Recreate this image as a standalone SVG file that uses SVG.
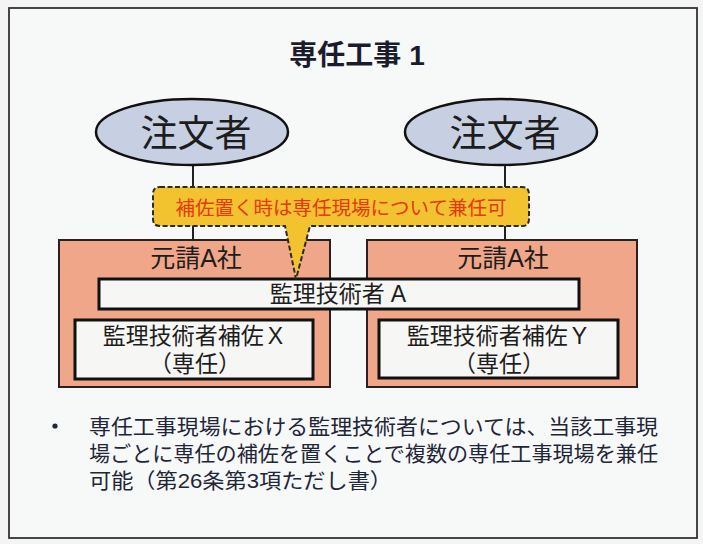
<svg xmlns="http://www.w3.org/2000/svg" width="703" height="544" viewBox="0 0 703 544">
<style>
text{font-family:"Liberation Sans","Noto Sans CJK JP",sans-serif;fill:#1d1d1d;dominant-baseline:central;text-anchor:middle}
.title{font-size:28px;font-weight:bold;fill:#1a1c2c}
.client{font-size:37px}
.corp{font-size:25px}
.lbl{font-size:23px}
.call{font-size:19.5px;fill:#e4380f}
.body{font-size:21px;text-anchor:start;fill:#1e2638}
.co{fill:#f0a689;stroke:#2a2020;stroke-width:2}
.wb{fill:#f6f6f4;stroke:#111;stroke-width:3}
.ell{fill:#c7d0e2;stroke:#111;stroke-width:2.5}
.conn{stroke:#222;stroke-width:2;fill:none}
</style>
<rect x="0" y="0" width="703" height="544" fill="#f3f4f3"/>
<rect x="9" y="8" width="688" height="530" fill="#f7f8f8" stroke="#333" stroke-width="1.8"/>
<text class="title" x="357" y="55">専任工事<tspan dx="8">1</tspan></text>
<g id="connectors">
<line class="conn" x1="193" y1="165" x2="193" y2="240"/>
<line class="conn" x1="505" y1="165" x2="505" y2="240"/>
</g>
<g id="client-left">
<ellipse class="ell" cx="192" cy="132" rx="96" ry="33"/>
<text class="client" x="196" y="134">注文者</text>
</g>
<g id="client-right">
<ellipse class="ell" cx="501" cy="132" rx="96" ry="33"/>
<text class="client" x="505" y="134">注文者</text>
</g>
<g id="company-left">
<rect class="co" x="59" y="240" width="271" height="147"/>
<text class="corp" x="196" y="258">元請A社</text>
</g>
<g id="company-right">
<rect class="co" x="367" y="240" width="270" height="147"/>
<text class="corp" x="503" y="258">元請A社</text>
</g>
<g id="assistant-x">
<rect class="wb" x="75" y="320" width="238" height="59"/>
<text class="lbl" x="193" y="336">監理技術者補佐<tspan dx="4">X</tspan></text>
<text class="lbl" x="195" y="364">（専任）</text>
</g>
<g id="assistant-y">
<rect class="wb" x="379" y="320" width="239" height="58"/>
<text class="lbl" x="497" y="336">監理技術者補佐<tspan dx="4">Y</tspan></text>
<text class="lbl" x="499" y="364">（専任）</text>
</g>
<g id="engineer-a">
<rect class="wb" x="99" y="279" width="480" height="30"/>
<text class="lbl" x="338" y="294">監理技術者<tspan dx="6">A</tspan></text>
</g>
<g id="callout">
<path d="M160,187 H522 Q529,187 529,194 V219 Q529,226 522,226 H310 L296,279 L285,226 H160 Q153,226 153,219 V194 Q153,187 160,187 Z" fill="#f2c22f" stroke="#2a2a2a" stroke-width="2" stroke-dasharray="5,2.5"/>
<text class="call" x="341" y="208">補佐置く時は専任現場について兼任可</text>
</g>
<g id="note">
<circle cx="55" cy="426" r="2.6" fill="#1e2638"/>
<text class="body" x="89" y="426" textLength="569" lengthAdjust="spacingAndGlyphs">専任工事現場における監理技術者については、当該工事現</text>
<text class="body" x="89" y="453" textLength="569" lengthAdjust="spacingAndGlyphs">場ごとに専任の補佐を置くことで複数の専任工事現場を兼任</text>
<text class="body" x="89" y="480" textLength="303" lengthAdjust="spacingAndGlyphs">可能（第26条第3項ただし書）</text>
</g>
</svg>
